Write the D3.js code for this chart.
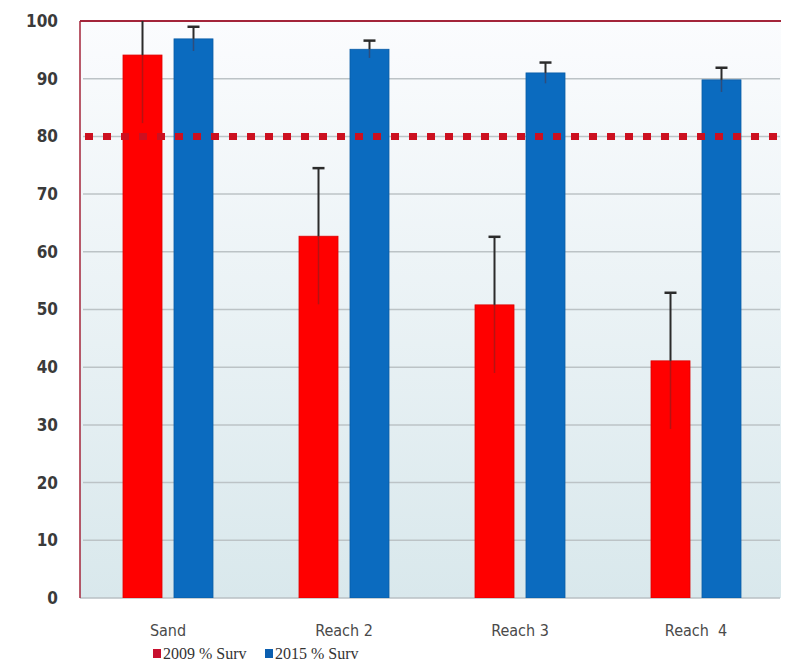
<!DOCTYPE html>
<html>
<head>
<meta charset="utf-8">
<script src="https://cdn.jsdelivr.net/npm/d3@7"></script>
<style>
  html, body { margin: 0; padding: 0; background: #ffffff; }
  svg { display: block; }
</style>
</head>
<body>
<svg id="chart" width="792" height="665"></svg>
<script>
const categories = ["Sand", "Reach 2", "Reach 3", "Reach  4"];
const series = ["2009 % Surv", "2015 % Surv"];
const surv2009 = [94.1, 62.7, 50.8, 41.1];
const err2009 = [11.8, 11.8, 11.8, 11.8];
const surv2015 = [96.9, 95.1, 91.0, 89.8];
const err2015 = [2.1, 1.5, 1.8, 2.1];
const yTicks = [0, 10, 20, 30, 40, 50, 60, 70, 80, 90, 100];
const targetLine = 80;

const seriesColors = ["#ff0000", "#0b6bbf"];
const legendColors = ["#c8102e", "#0b5fb0"];

const svg = d3.select("#chart");
const m = { left: 80, right: 8, top: 21, bottom: 67 };
const W = 792, H = 665;

const x0 = d3.scaleBand().domain(categories).range([m.left, W - m.right]).padding(0);
const groupHalf = 45;
const x1 = d3.scaleBand().domain(series)
  .range([x0.bandwidth() / 2 - groupHalf, x0.bandwidth() / 2 + groupHalf])
  .paddingInner(0.235).paddingOuter(0);
const y = d3.scaleLinear().domain([0, 100]).range([H - m.bottom, m.top]);

// background gradient
const defs = svg.append("defs");
const grad = defs.append("linearGradient").attr("id", "bg").attr("x1", 0).attr("y1", 0).attr("x2", 0).attr("y2", 1);
grad.append("stop").attr("offset", "0%").attr("stop-color", "#fbfcfe");
grad.append("stop").attr("offset", "100%").attr("stop-color", "#d9e8ec");
defs.append("clipPath").attr("id", "plotclip").append("rect")
  .attr("x", m.left).attr("y", m.top).attr("width", W - m.right - m.left).attr("height", y(0) - m.top);

svg.append("rect").attr("x", m.left).attr("y", m.top)
  .attr("width", W - m.right - m.left - 3).attr("height", y(0) - m.top)
  .attr("fill", "url(#bg)");

// gridlines
svg.append("g").selectAll("line").data(yTicks.filter(t => t > 0 && t < 100)).join("line")
  .attr("x1", m.left + 3).attr("x2", W - m.right - 4)
  .attr("y1", d => y(d)).attr("y2", d => y(d))
  .attr("stroke", "#bcc3c6").attr("stroke-width", 1.5);

// baseline
svg.append("line").attr("x1", m.left).attr("x2", W - m.right - 4)
  .attr("y1", y(0)).attr("y2", y(0)).attr("stroke", "#b8c0c4").attr("stroke-width", 1.5);

// top border and left axis
svg.append("line").attr("x1", m.left).attr("x2", W - m.right - 3)
  .attr("y1", y(100)).attr("y2", y(100)).attr("stroke", "#a3253a").attr("stroke-width", 2);
svg.append("line").attr("x1", m.left).attr("x2", m.left)
  .attr("y1", y(100)).attr("y2", y(0)).attr("stroke", "#a3253a").attr("stroke-width", 1.5);

// y tick labels
const yAxis = d3.axisLeft(y).tickValues(yTicks).tickSize(0).tickPadding(22);
const yg = svg.append("g").attr("transform", `translate(${m.left},0)`).call(yAxis);
yg.select(".domain").remove();
yg.selectAll("text")
  .attr("font-family", "'DejaVu Sans Condensed', 'DejaVu Sans', sans-serif")
  .attr("font-weight", "bold").attr("font-size", 17).attr("fill", "#3a3a3a");

// bars
const rows = categories.map((c, i) => ({
  cat: c,
  vals: [
    { s: series[0], v: surv2009[i], e: err2009[i], color: seriesColors[0] },
    { s: series[1], v: surv2015[i], e: err2015[i], color: seriesColors[1] }
  ]
}));

const groups = svg.append("g").attr("clip-path", "url(#plotclip)")
  .selectAll("g").data(rows).join("g")
  .attr("transform", d => `translate(${x0(d.cat)},0)`);

groups.selectAll("rect").data(d => d.vals).join("rect")
  .attr("x", d => x1(d.s)).attr("width", x1.bandwidth())
  .attr("y", d => y(d.v)).attr("height", d => y(0) - y(d.v))
  .attr("fill", d => d.color)
  .attr("stroke", d => d3.color(d.color).darker(0.4)).attr("stroke-width", 0.8);

// error bars: lower half inside bar (faint), upper half dark with cap
groups.selectAll("line.lo").data(d => d.vals).join("line").attr("class", "lo")
  .attr("x1", d => x1(d.s) + x1.bandwidth() / 2).attr("x2", d => x1(d.s) + x1.bandwidth() / 2)
  .attr("y1", d => y(d.v)).attr("y2", d => y(d.v - d.e))
  .attr("stroke", "#5a2a2a").attr("stroke-opacity", 0.45).attr("stroke-width", 1.5);
groups.selectAll("line.hi").data(d => d.vals).join("line").attr("class", "hi")
  .attr("x1", d => x1(d.s) + x1.bandwidth() / 2).attr("x2", d => x1(d.s) + x1.bandwidth() / 2)
  .attr("y1", d => y(d.v)).attr("y2", d => y(d.v + d.e))
  .attr("stroke", "#2b2b2b").attr("stroke-width", 2);
groups.selectAll("line.cap").data(d => d.vals).join("line").attr("class", "cap")
  .attr("x1", d => x1(d.s) + x1.bandwidth() / 2 - 6).attr("x2", d => x1(d.s) + x1.bandwidth() / 2 + 6)
  .attr("y1", d => y(d.v + d.e)).attr("y2", d => y(d.v + d.e))
  .attr("stroke", "#2b2b2b").attr("stroke-width", 2.5);

// target line at 80
svg.append("line").attr("x1", m.left + 5).attr("x2", W - m.right)
  .attr("y1", y(targetLine)).attr("y2", y(targetLine))
  .attr("stroke", "#cc1020").attr("stroke-width", 7).attr("stroke-dasharray", "8,10");

// x labels
svg.append("g").selectAll("text").data(categories).join("text")
  .attr("x", d => x0(d) + x0.bandwidth() / 2).attr("y", 636)
  .attr("text-anchor", "middle")
  .attr("font-family", "'DejaVu Sans Condensed', 'DejaVu Sans', sans-serif")
  .attr("font-size", 16).attr("fill", "#4a4a4a")
  .style("white-space", "pre").attr("xml:space", "preserve")
  .text(d => d);

// legend
const legendX = [153, 265];
const lg = svg.append("g").selectAll("g").data(series).join("g")
  .attr("transform", (d, i) => `translate(${legendX[i]},0)`);
lg.append("rect").attr("x", 0).attr("y", 649).attr("width", 8).attr("height", 9)
  .attr("fill", (d, i) => legendColors[i]);
lg.append("text").attr("x", 10).attr("y", 659)
  .attr("font-family", "'Liberation Serif', 'DejaVu Serif', serif")
  .attr("font-size", 16).attr("fill", "#333")
  .text(d => d);
</script>
</body>
</html>
